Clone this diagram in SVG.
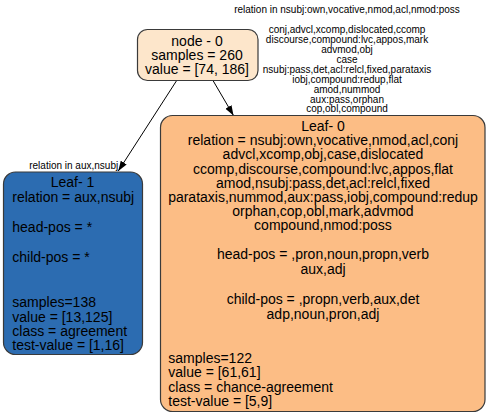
<svg xmlns="http://www.w3.org/2000/svg" width="490" height="416" viewBox="0 0 490 416">
<style>
text{font-family:"Liberation Sans",Arial,Helvetica,sans-serif;fill:#000}
.n{font-size:14px}
.c{text-anchor:middle}
.e{font-size:10px;text-anchor:middle}
.box{stroke:#3a3a3a;stroke-width:1.2}
.edge{stroke:#000;stroke-width:1;fill:none}
</style>
<defs>
<marker id="arr" markerUnits="userSpaceOnUse" markerWidth="11" markerHeight="8" refX="10" refY="3.5" orient="auto">
<path d="M0,0 L10,3.5 L0,7 Z" fill="#000"/>
</marker>
</defs>
<rect width="490" height="416" fill="#fff"/>
<g id="connectors">
<path class="edge" d="M177,80 L118.3,171" marker-end="url(#arr)"/>
<path class="edge" d="M212.7,80 L233.5,115.5" marker-end="url(#arr)"/>
<text class="e" x="347" y="13">relation in nsubj:own,vocative,nmod,acl,nmod:poss</text>
<text class="e" x="347" y="33.3">conj,advcl,xcomp,dislocated,ccomp</text>
<text class="e" x="347" y="43.2">discourse,compound:lvc,appos,mark</text>
<text class="e" x="347" y="53.1">advmod,obj</text>
<text class="e" x="347" y="63">case</text>
<text class="e" x="347" y="72.8">nsubj:pass,det,acl:relcl,fixed,parataxis</text>
<text class="e" x="347" y="82.7">iobj,compound:redup,flat</text>
<text class="e" x="347" y="92.6">amod,nummod</text>
<text class="e" x="347" y="102.5">aux:pass,orphan</text>
<text class="e" x="347" y="112.4">cop,obl,compound</text>
<text class="e" x="73.7" y="169">relation in aux,nsubj</text>
</g>
<g id="node0">
<rect class="box" x="137.5" y="29.5" width="120.5" height="51" rx="10" fill="#fde6cb"/>
<text class="n c" x="197" y="45.8">node - 0</text>
<text class="n c" x="197" y="60">samples = 260</text>
<text class="n c" x="197" y="74.2">value = [74, 186]</text>
</g>
<g id="leaf1">
<rect class="box" x="3.5" y="172" width="139" height="182.5" rx="12" fill="#2c6cb1"/>
<text class="n c" x="72.5" y="187.3">Leaf- 1</text>
<text class="n" x="12.3" y="201.7">relation = aux,nsubj</text>
<text class="n" x="12.3" y="231.7">head-pos = *</text>
<text class="n" x="12.3" y="261.7">child-pos = *</text>
<text class="n" x="12.3" y="307">samples=138</text>
<text class="n" x="12.3" y="321.5">value = [13,125]</text>
<text class="n" x="12.3" y="336">class = agreement</text>
<text class="n" x="12.3" y="350">test-value = [1,16]</text>
</g>
<g id="leaf0">
<rect class="box" x="160.5" y="115.5" width="324.5" height="296" rx="12" fill="#fcbd85"/>
<text class="n c" x="323" y="131">Leaf- 0</text>
<text class="n c" x="323" y="145">relation = nsubj:own,vocative,nmod,acl,conj</text>
<text class="n c" x="323" y="159.3">advcl,xcomp,obj,case,dislocated</text>
<text class="n c" x="323" y="173.5">ccomp,discourse,compound:lvc,appos,flat</text>
<text class="n c" x="323" y="187.7">amod,nsubj:pass,det,acl:relcl,fixed</text>
<text class="n c" x="323" y="202">parataxis,nummod,aux:pass,iobj,compound:redup</text>
<text class="n c" x="323" y="216">orphan,cop,obl,mark,advmod</text>
<text class="n c" x="323" y="230">compound,nmod:poss</text>
<text class="n c" x="323" y="258.7">head-pos = ,pron,noun,propn,verb</text>
<text class="n c" x="323" y="273.5">aux,adj</text>
<text class="n c" x="323" y="304">child-pos = ,propn,verb,aux,det</text>
<text class="n c" x="323" y="318.5">adp,noun,pron,adj</text>
<text class="n" x="168.3" y="363">samples=122</text>
<text class="n" x="168.3" y="377.3">value = [61,61]</text>
<text class="n" x="168.3" y="391.7">class = chance-agreement</text>
<text class="n" x="168.3" y="406">test-value = [5,9]</text>
</g>
</svg>
